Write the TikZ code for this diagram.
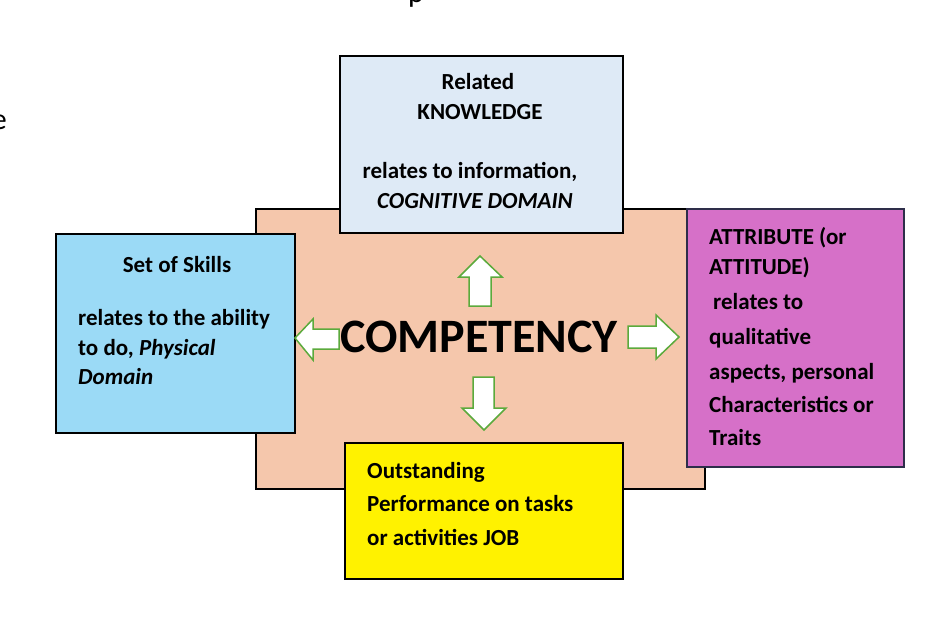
\documentclass[tikz,border=0pt]{standalone}
\usepackage{fontspec}
\setmainfont{Carlito}
\begin{document}
\begin{tikzpicture}[x=1pt,y=-1pt,
  box/.style={draw=black,line width=1.6pt},
  arr/.style={fill=white,line width=1.5pt,line join=miter},
  txt/.style={font=\bfseries\fontsize{23}{33}\selectfont,inner sep=0pt,align=left,anchor=base west}]
\useasboundingbox (0,0) rectangle (925,638);
\definecolor{peach}{HTML}{F5C7AC}
\definecolor{know}{HTML}{DEEAF6}
\definecolor{skill}{HTML}{9BDAF6}
\definecolor{attr}{HTML}{D670C8}
\definecolor{ab}{HTML}{2E2E4A}
\definecolor{ag}{HTML}{5BAA3C}
% partial texts at the edges
\node[font=\fontsize{30}{30}\selectfont,inner sep=0pt,anchor=base east] (e) at (7,129) {e};
\node[font=\fontsize{30}{30}\selectfont,inner sep=0pt,anchor=base] (p) at (416,2) {p};
% boxes
\node[box,fill=peach,minimum width=449pt,minimum height=280pt,anchor=north west,inner sep=0pt] (core) at (255,208) {};
\node[box,fill=know,minimum width=283pt,minimum height=177pt,anchor=north west,inner sep=0pt] (know) at (339,55) {};
\node[box,fill=skill,minimum width=239pt,minimum height=199pt,anchor=north west,inner sep=0pt] (skill) at (55,233) {};
\node[box,draw=ab,fill=attr,minimum width=217pt,minimum height=258pt,anchor=north west,inner sep=0pt] (attr) at (686,208) {};
\node[box,fill=yellow,minimum width=278pt,minimum height=136pt,anchor=north west,inner sep=0pt] (perf) at (344,442) {};
% arrows
\draw[arr,draw=ag] (480,256) -- (502,277) -- (491,277) -- (491,306) -- (469,306) -- (469,277) -- (459,277) -- cycle;
\draw[arr,draw=ag] (295,338) -- (313,319) -- (313,329) -- (339,329) -- (339,349) -- (313,349) -- (313,360) -- cycle;
\draw[arr,draw=ag] (679,337) -- (656,315) -- (656,326) -- (628,326) -- (628,348) -- (656,348) -- (656,359) -- cycle;
\draw[arr,draw=ag] (484,430) -- (506,408) -- (494,408) -- (494,377) -- (473,377) -- (473,408) -- (462,408) -- cycle;
% texts
\node[font=\bfseries\fontsize{48}{50}\selectfont,inner sep=0pt,anchor=base] (comp) at (479,352) {COMPETENCY};
\node[txt,anchor=base] (kt1) at (478,89) {Related};
\node[txt,anchor=base] (kt2) at (480,119) {KNOWLEDGE};
\node[txt,anchor=base] (kt3) at (470,178) {relates to information,};
\node[txt,anchor=base] (kt4) at (475,208) {\itshape COGNITIVE DOMAIN};
\node[txt,anchor=base] (st1) at (177,272) {Set of Skills};
\node[txt] (st2) at (78,325) {relates to the ability};
\node[txt] (st3) at (78,355) {to do, \itshape Physical};
\node[txt] (st4) at (78,384) {\itshape Domain};
\node[txt] (at1) at (709,244) {ATTRIBUTE (or};
\node[txt] (at2) at (709,274) {ATTITUDE)};
\node[txt] (at3) at (713,309) {relates to};
\node[txt] (at4) at (709,344) {qualitative};
\node[txt] (at5) at (709,379) {aspects, personal};
\node[txt] (at6) at (709,412) {Characteristics or};
\node[txt] (at7) at (709,445) {Traits};
\node[txt] (pt1) at (367,478) {Outstanding};
\node[txt] (pt2) at (367,511) {Performance on tasks};
\node[txt] (pt3) at (367,545) {or activities JOB};
\end{tikzpicture}
\end{document}
